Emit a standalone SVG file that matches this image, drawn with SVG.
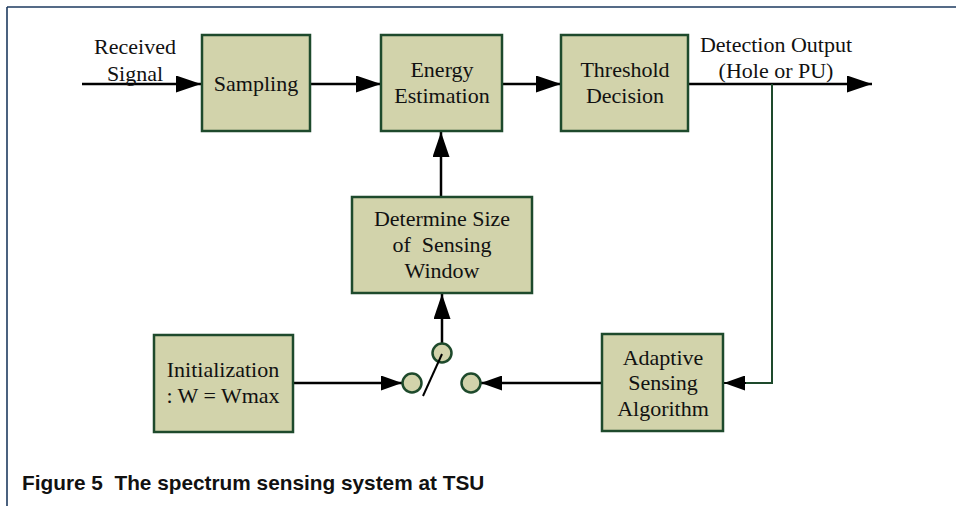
<svg xmlns="http://www.w3.org/2000/svg" width="956" height="506" viewBox="0 0 956 506">
<defs>
<marker id="ah" markerWidth="25" markerHeight="17" refX="25" refY="8.5" orient="auto" markerUnits="userSpaceOnUse">
<path d="M0,0 L25,8.5 L0,17 Z" fill="#000"/>
</marker>
<marker id="ahs" markerWidth="21" markerHeight="15" refX="21" refY="7.5" orient="auto" markerUnits="userSpaceOnUse">
<path d="M0,0 L21,7.5 L0,15 Z" fill="#000"/>
</marker>
<style>
.box{fill:#d2d3ab;stroke:#1e4a2c;stroke-width:2.5}
.t{font-family:"Liberation Serif","Times New Roman",serif;font-size:22px;fill:#111;text-anchor:middle}
.c{fill:none;stroke:#000;stroke-width:2.5}
.cs{fill:none;stroke:#000;stroke-width:2}
.g{fill:none;stroke:#1e4a2c;stroke-width:2}
.sw{fill:#d2d3ab;stroke:#1e4a2c;stroke-width:2.5}
</style>
</defs>
<rect width="956" height="506" fill="#fff"/>
<g id="frame" fill="none" stroke="#1d3a5f" stroke-width="1.6">
<line x1="7" y1="7" x2="956" y2="7"/>
<line x1="7" y1="7" x2="7" y2="506"/>
</g>
<g id="connectors">
<line class="c" x1="82" y1="84" x2="201" y2="84" marker-end="url(#ah)"/>
<line class="c" x1="311" y1="84" x2="381" y2="84" marker-end="url(#ah)"/>
<line class="c" x1="502" y1="84" x2="561" y2="84" marker-end="url(#ah)"/>
<line class="c" x1="688" y1="84" x2="872" y2="84" marker-end="url(#ah)"/>
<polyline class="g" points="772,84 772,383 744,383"/>
<line class="cs" x1="746" y1="383" x2="724" y2="383" marker-end="url(#ahs)"/>
<line class="c" x1="441" y1="197" x2="441" y2="132" marker-end="url(#ah)"/>
<line class="c" x1="442" y1="343" x2="442" y2="294" marker-end="url(#ah)"/>
<line class="c" x1="293" y1="383" x2="402" y2="383" marker-end="url(#ahs)"/>
<line class="c" x1="602" y1="383" x2="481" y2="383" marker-end="url(#ahs)"/>
</g>
<g id="sampling"><rect class="box" x="202" y="35" width="108" height="96"/><text class="t" x="256" y="91">Sampling</text></g>
<g id="energy"><rect class="box" x="381" y="35" width="121" height="96"/><text class="t" x="442" y="77">Energy</text><text class="t" x="442" y="103">Estimation</text></g>
<g id="threshold"><rect class="box" x="561" y="35" width="127" height="96"/><text class="t" x="625" y="77">Threshold</text><text class="t" x="625" y="103">Decision</text></g>
<g id="determine"><rect class="box" x="352" y="197" width="180" height="96"/><text class="t" x="442" y="226">Determine Size</text><text class="t" x="442" y="252" xml:space="preserve">of  Sensing</text><text class="t" x="442" y="278">Window</text></g>
<g id="init"><rect class="box" x="154" y="335" width="139" height="97"/><text class="t" x="223" y="377">Initialization</text><text class="t" x="223" y="403">: W = Wmax</text></g>
<g id="adaptive"><rect class="box" x="602" y="334" width="121" height="97"/><text class="t" x="663" y="365">Adaptive</text><text class="t" x="663" y="390">Sensing</text><text class="t" x="663" y="416">Algorithm</text></g>
<g id="switch">
<circle class="sw" cx="442" cy="353" r="9.5"/>
<circle class="sw" cx="412" cy="383" r="9.5"/>
<circle class="sw" cx="471" cy="383" r="9.5"/>
<line class="cs" x1="423" y1="396" x2="442" y2="354"/>
</g>
<g id="labels">
<text class="t" x="135" y="54">Received</text>
<text class="t" x="135" y="81">Signal</text>
<text class="t" x="776" y="52">Detection Output</text>
<text class="t" x="776" y="78">(Hole or PU)</text>
</g>
<text x="22" y="490" font-family="'Liberation Sans',Arial,sans-serif" font-weight="bold" font-size="20.8" fill="#111" xml:space="preserve">Figure 5  The spectrum sensing system at TSU</text>
</svg>
